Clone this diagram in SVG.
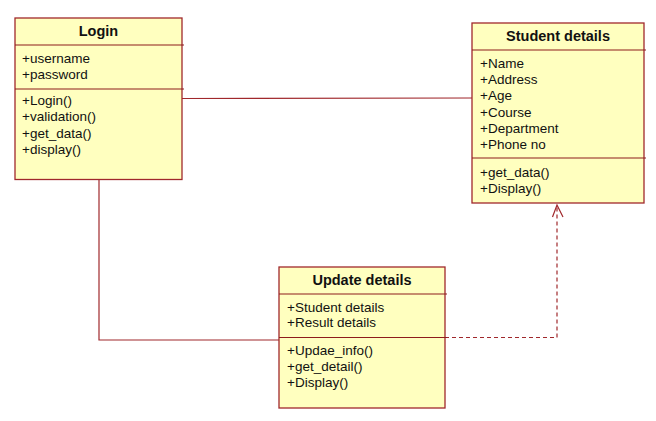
<svg xmlns="http://www.w3.org/2000/svg" width="656" height="421" viewBox="0 0 656 421">
<defs>
<style>
.box{fill:#FFFFBF;stroke:#A0282C;stroke-width:1.3}
.div{stroke:#8E1C1C;stroke-width:1.2;fill:none}
.conn{stroke:#A0282C;stroke-width:1.2;fill:none}
.dash{stroke:#A0282C;stroke-width:1.2;fill:none;stroke-dasharray:4,3}
.t{font-family:"Liberation Sans",Arial,sans-serif;font-size:13.5px;fill:#111}
.h{font-family:"Liberation Sans",Arial,sans-serif;font-size:14.5px;font-weight:bold;fill:#111;text-anchor:middle}
</style>
</defs>
<rect width="656" height="421" fill="#fff"/>
<g id="connectors">
<polyline class="conn" points="182,98.5 472,98"/>
<polyline class="conn" points="99,179.5 99,340 279,340"/>
<polyline class="dash" points="445,337.5 557,337.5 557,206"/>
<polyline class="conn" points="552.5,217 557,205 563,217"/>
</g>
<g id="login">
<rect class="box" x="15" y="18" width="167" height="161.5"/>
<line class="div" x1="15" y1="45" x2="184" y2="45"/>
<line class="div" x1="15" y1="89" x2="184" y2="89"/>
<text class="h" x="98.5" y="36">Login</text>
<text class="t" x="22" y="63">+username</text>
<text class="t" x="22" y="79">+password</text>
<text class="t" x="22" y="104.5">+Login()</text>
<text class="t" x="22" y="121">+validation()</text>
<text class="t" x="22" y="137.5">+get_data()</text>
<text class="t" x="22" y="154">+display()</text>
</g>
<g id="student">
<rect class="box" x="472" y="23" width="172" height="180"/>
<line class="div" x1="472" y1="50" x2="646" y2="50"/>
<line class="div" x1="472" y1="158" x2="646" y2="158"/>
<text class="h" x="558" y="40.5">Student details</text>
<text class="t" x="480" y="68">+Name</text>
<text class="t" x="480" y="84">+Address</text>
<text class="t" x="480" y="100">+Age</text>
<text class="t" x="480" y="116.5">+Course</text>
<text class="t" x="480" y="132.5">+Department</text>
<text class="t" x="480" y="148.5">+Phone no</text>
<text class="t" x="480" y="177">+get_data()</text>
<text class="t" x="480" y="193">+Display()</text>
</g>
<g id="update">
<rect class="box" x="279" y="267" width="166" height="141"/>
<line class="div" x1="279" y1="294" x2="447" y2="294"/>
<line class="div" x1="279" y1="337.5" x2="447" y2="337.5"/>
<text class="h" x="362" y="285">Update details</text>
<text class="t" x="287" y="311.5">+Student details</text>
<text class="t" x="287" y="327">+Result details</text>
<text class="t" x="287" y="355">+Updae_info()</text>
<text class="t" x="287" y="371">+get_detail()</text>
<text class="t" x="287" y="387">+Display()</text>
</g>
</svg>
